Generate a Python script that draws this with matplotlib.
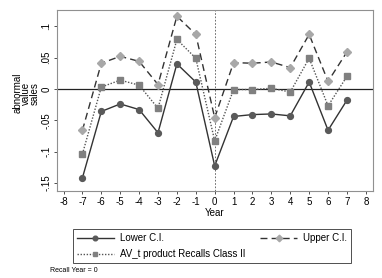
import matplotlib
matplotlib.use('Agg')
import matplotlib.pyplot as plt

plt.rcParams['font.family'] = ['Liberation Sans', 'DejaVu Sans']
plt.rcParams['axes.unicode_minus'] = False

years = [-7, -6, -5, -4, -3, -2, -1, 0, 1, 2, 3, 4, 5, 6, 7]
lower_ci = [-0.142, -0.036, -0.024, -0.033, -0.070, 0.040, 0.011, -0.123,
            -0.044, -0.041, -0.040, -0.043, 0.011, -0.066, -0.018]
av_t = [-0.104, 0.003, 0.014, 0.006, -0.031, 0.079, 0.049, -0.083,
        -0.001, -0.001, 0.001, -0.005, 0.049, -0.027, 0.020]
upper_ci = [-0.066, 0.041, 0.052, 0.044, 0.007, 0.116, 0.087, -0.046,
            0.042, 0.041, 0.043, 0.034, 0.087, 0.012, 0.059]
xticks = list(range(-8, 9))
yticks = [-0.15, -0.1, -0.05, 0, 0.05, 0.1]
ylabels = ['-.15', '-.1', '-.05', '0', '.05', '.1']

fig = plt.figure(figsize=(3.82, 2.78), dpi=100)
ax = fig.add_axes([0.149, 0.313, 0.827, 0.651])

ax.axhline(0, color='#222222', lw=0.9, zorder=1)
ax.axvline(0, color='#555555', lw=0.6, ls=(0, (2, 2)), zorder=1)

ax.plot(years, lower_ci, color='#333333', lw=1.0, ls='-', marker='o',
        ms=4.2, mfc='#5a5a5a', mec='#5a5a5a', label='Lower C.I.', zorder=3)
ax.plot(years, av_t, color='#555555', lw=1.0, ls=(0, (1, 1.2)), marker='s',
        ms=4.2, mfc='#808080', mec='#808080',
        label='AV_t product Recalls Class II', zorder=3)
ax.plot(years, upper_ci, color='#333333', lw=1.0, ls=(0, (5, 3)), marker='D',
        ms=4.2, mfc='#a8a8a8', mec='#a8a8a8', label='Upper C.I.', zorder=3)

ax.set_xlim(-8.35, 8.37)
ax.set_ylim(-0.163, 0.126)
ax.set_xticks(xticks)
ax.set_yticks(yticks)
ax.set_yticklabels(ylabels, rotation=90, va='center')
ax.tick_params(axis='both', labelsize=7, length=2.5, width=0.6,
               color='#333333', pad=1.5)
for s in ax.spines.values():
    s.set_color('#909090')
    s.set_linewidth(0.8)

ax.set_xlabel('Year', fontsize=7, labelpad=1)
ax.set_ylabel('abnormal\nvalue\nsales', fontsize=7, linespacing=0.8)
ax.yaxis.set_label_coords(-0.056, 0.54)

h, l = ax.get_legend_handles_labels()
leg = fig.legend(h, l, ncol=2, mode='expand', fontsize=7,
                 bbox_to_anchor=(73 / 382, 1 - 263 / 278, 278 / 382, 41 / 278),
                 loc='lower left', frameon=True, fancybox=False,
                 edgecolor='#222222', handlelength=3.8, borderaxespad=0,
                 labelspacing=0.6, handletextpad=0.6, markerscale=0.8)
leg.get_frame().set_linewidth(0.7)

fig.text(50 / 382, 1 - 271 / 278, 'Recall Year = 0', fontsize=5,
         va='center', ha='left')

fig.savefig('out.png', dpi=100)
